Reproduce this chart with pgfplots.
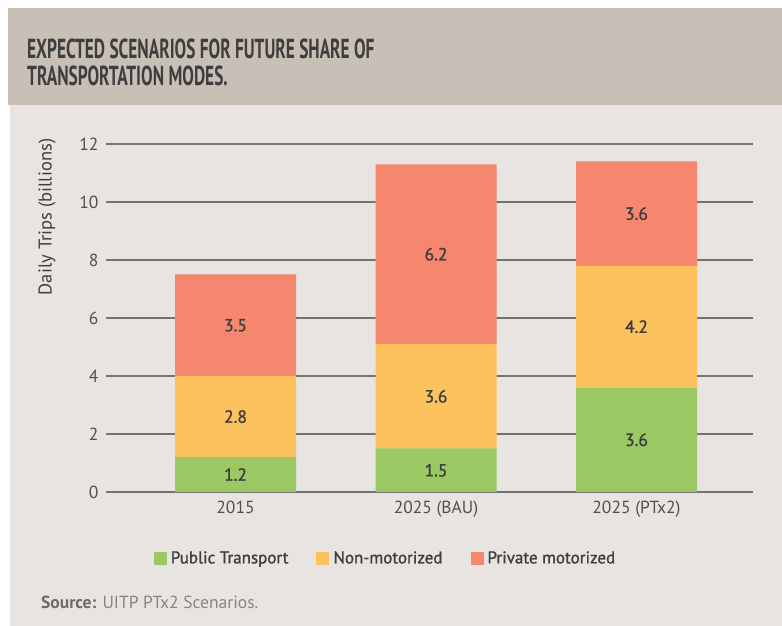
\documentclass[border=0pt]{standalone}
\usepackage{fontspec}
\setmainfont{PT Sans}
\newfontfamily\titlefont{PT Sans}[FakeStretch=0.63]
\newfontfamily\medfont{PT Sans}[FakeBold=1.2]
\usepackage{pgfplots}
\pgfplotsset{compat=1.18}

\definecolor{band}{HTML}{C8C0B6}
\definecolor{bodybg}{HTML}{E7E4E1}
\definecolor{ptgreen}{HTML}{9AC862}
\definecolor{nmyellow}{HTML}{FCC25E}
\definecolor{pmred}{HTML}{F4876D}
\definecolor{txt}{HTML}{3E3E3E}
\definecolor{ticktxt}{HTML}{505050}
\definecolor{gridc}{HTML}{727272}

\pgfplotsset{
  sq/.style={legend image code/.code={\fill[##1,draw=none] (0pt,-7pt) rectangle (13pt,6pt);}},
  chartframe/.style={
    at={(106pt,134pt)}, anchor=south west,
    width=647pt, height=348pt, scale only axis,
    xmin=-0.646, xmax=2.581, ymin=0, ymax=12,
  },
}

\begin{document}
\begin{tikzpicture}[x=1pt,y=1pt]

% backgrounds
\fill[white] (0,0) rectangle (782,626);
\fill[bodybg] (10,0) rectangle (782,521);
\fill[band] (8,521) rectangle (782,618);

% title (two lines, baselines at 567 and 540)
\begin{scope}[every node/.style={anchor=base west,inner sep=0pt,text=txt,
    font=\titlefont\bfseries\fontsize{27.5}{27}\selectfont}]
  \node at (27,567) {EXPECTED SCENARIOS FOR FUTURE SHARE OF};
  \node at (27,540) {TRANSPORTATION MODES.};
\end{scope}

\begin{axis}[
    chartframe,
    ybar stacked, bar width=121pt,
    axis line style={draw=none},
    ymajorgrids, grid style={gridc,line width=1.3pt},
    major tick length=0pt,
    ytick={0,2,...,12},
    xtick=data,
    xticklabels={2015,2025 (BAU),2025 (PTx2)},
    /pgf/number format/assume math mode=true,
    tick label style={text=ticktxt,font=\fontsize{17.5}{20}\selectfont},
    yticklabel style={xshift=-4pt},
    xticklabel style={yshift=-6pt},
    legend columns=3,
    legend style={
        at={(0.432,-0.19)}, anchor=center,
        draw=none, fill=none,
        font=\medfont\fontsize{17}{20}\selectfont, text=txt,
        /tikz/every odd column/.append style={column sep=2pt},
        /tikz/every even column/.append style={column sep=26pt},
    },
]
\addplot[fill=ptgreen,draw=none,sq] coordinates {(0,1.2) (1,1.5) (2,3.6)};
\addlegendentry{Public Transport}
\addplot[fill=nmyellow,draw=none,sq] coordinates {(0,2.8) (1,3.6) (2,4.2)};
\addlegendentry{Non-motorized}
\addplot[fill=pmred,draw=none,sq] coordinates {(0,3.5) (1,6.2) (2,3.6)};
\addlegendentry{Private motorized}
\end{axis}

% value labels, centred in each segment
\begin{axis}[
    chartframe, hide axis,
]
\addplot[draw=none,mark=none,nodes near coords,point meta=explicit symbolic,
  every node near coord/.style={anchor=center,text=txt,font=\medfont\fontsize{17.5}{20}\selectfont}]
  coordinates {
    (0,0.6)[1.2] (0,2.6)[2.8] (0,5.75)[3.5]
    (1,0.75)[1.5] (1,3.3)[3.6] (1,8.2)[6.2]
    (2,1.8)[3.6] (2,5.7)[4.2] (2,9.6)[3.6]
  };
\end{axis}

% y axis title
\node[rotate=90,text=txt,font=\fontsize{18.5}{20}\selectfont] at (47,409) {Daily Trips (billions)};

% source line
\node[anchor=west,inner sep=0pt,font=\fontsize{17.5}{20}\selectfont] at (41,24)
  {\textcolor{black!58}{\bfseries Source:} \textcolor{black!48}{UITP PTx2 Scenarios.}};

\pgfresetboundingbox
\path[use as bounding box] (0,0) rectangle (782,626);
\end{tikzpicture}
\end{document}
